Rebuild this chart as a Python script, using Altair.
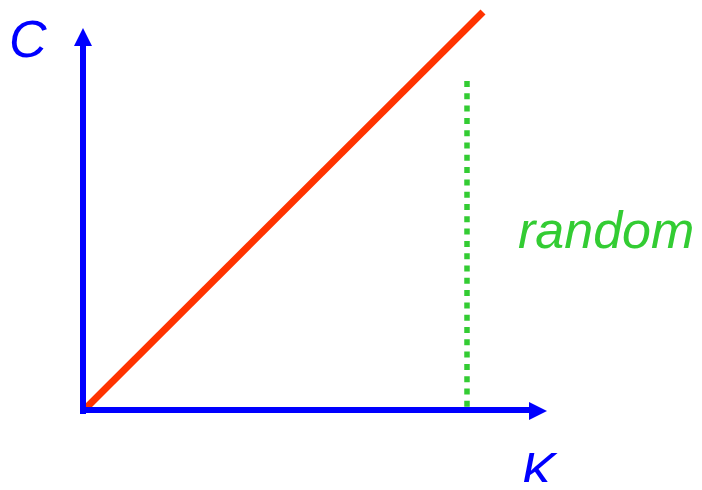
import altair as alt
import pandas as pd

# data (units: pixel-like scale with origin at the axes' corner)
k_axis_x = [-3, 446]
k_axis_y = [0, 0]
c_axis_x = [0, 0]
c_axis_y = [-4, 366]
line_x = [3, 400]
line_y = [2, 398]
random_x = [384, 384]
random_y = [329, 0]
arrow_x = [0, 455]
arrow_y = [373, -1]
arrow_shape = ["M0,-1L1,1L-1,1Z", "M1,0L-1,1L-1,-1Z"]
label_text = ["C", "K", "random"]
label_x = [-74, 438, 435]
label_y = [353, -79, 162]
label_color = ["#0000FF", "#0000FF", "#33CC33"]

W, H = 686, 474
xs = alt.Scale(domain=[-75, 611], range=[0, W], nice=False, zero=False)
ys = alt.Scale(domain=[-72, 402], range=[H, 0], nice=False, zero=False)


def seg(xv, yv, color, width, dash=None):
    df = pd.DataFrame({"x": xv, "y": yv, "o": list(range(len(xv)))})
    kw = dict(color=color, strokeWidth=width, strokeCap="butt")
    if dash:
        kw["strokeDash"] = dash
    return alt.Chart(df).mark_line(**kw).encode(
        x=alt.X("x:Q", scale=xs, axis=None),
        y=alt.Y("y:Q", scale=ys, axis=None),
        order="o:Q",
    )


axes_k = seg(k_axis_x, k_axis_y, "#0000FF", 6)
axes_c = seg(c_axis_x, c_axis_y, "#0000FF", 6)
red = seg(line_x, line_y, "#FF3300", 7)
green = seg(random_x, random_y, "#33CC33", 5.5, [6, 6.3])

arrows = alt.layer(*[
    alt.Chart(pd.DataFrame({"x": [arrow_x[i]], "y": [arrow_y[i]]})).mark_point(
        shape=arrow_shape[i], filled=True, color="#0000FF", opacity=1, size=324, strokeWidth=0
    ).encode(
        x=alt.X("x:Q", scale=xs, axis=None),
        y=alt.Y("y:Q", scale=ys, axis=None),
    )
    for i in range(2)
])

labels_df = pd.DataFrame({"t": label_text, "x": label_x, "y": label_y, "c": label_color})
labels = alt.Chart(labels_df).mark_text(
    font="Liberation Sans", fontStyle="italic", fontSize=52, align="left", baseline="alphabetic"
).encode(
    x=alt.X("x:Q", scale=xs, axis=None),
    y=alt.Y("y:Q", scale=ys, axis=None),
    text="t:N",
    color=alt.Color("c:N", scale=None, legend=None),
)

chart = alt.layer(red, green, axes_k, axes_c, arrows, labels).properties(
    width=W, height=H, padding=0, autosize=alt.AutoSizeParams(type="none")
).configure_view(stroke=None)

chart.save("out.html", embed_options={"renderer": "svg", "actions": False})
